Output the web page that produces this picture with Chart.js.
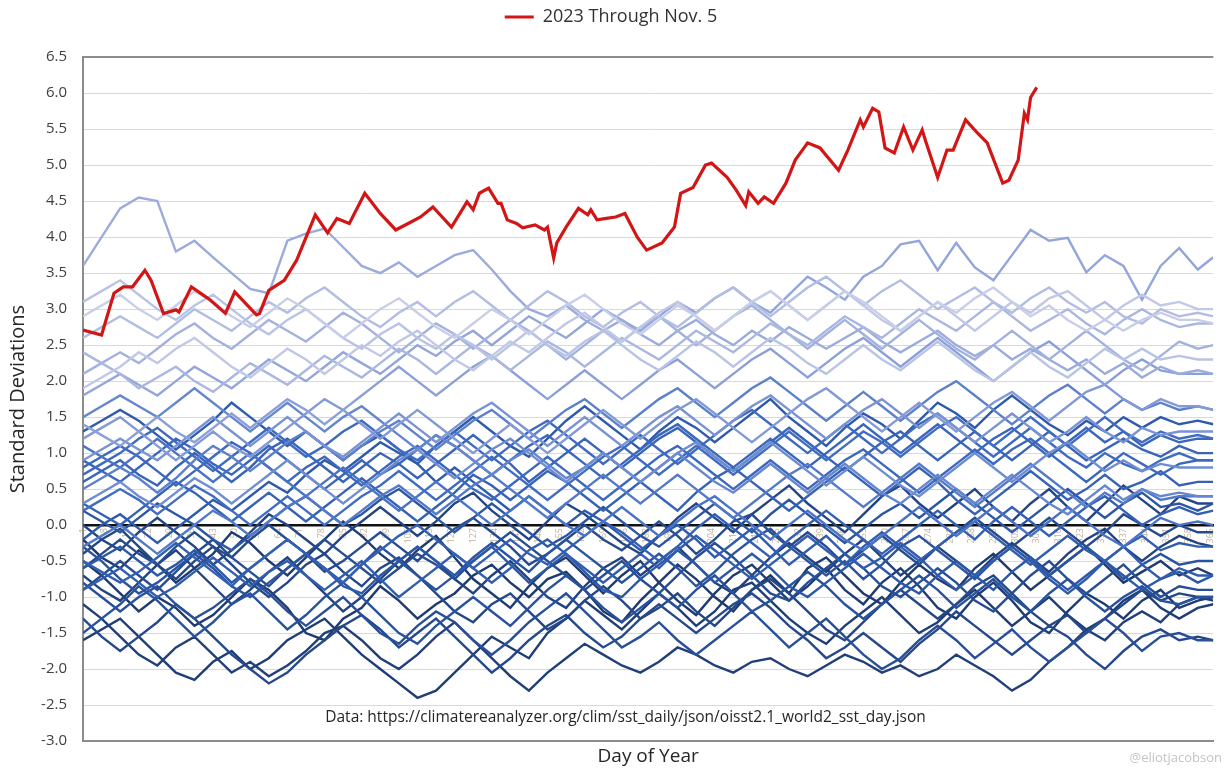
<!DOCTYPE html>
<html>
<head>
<meta charset="utf-8">
<script src="https://cdn.jsdelivr.net/npm/chart.js@4.4.0/dist/chart.umd.min.js"></script>
<style>
    html, body { margin: 0; padding: 0; background: #ffffff; }
    #wrap { width: 1224px; height: 768px; position: relative; }
</style>
</head>
<body>
<div id="wrap"><canvas id="sstChart"></canvas></div>
<script>
const sampleDays = [1, 7, 13, 19, 25, 31, 37, 43, 49, 55, 61, 67, 73, 79, 85, 91, 97, 103, 109, 115,
    121, 127, 133, 139, 145, 151, 157, 163, 169, 175, 181, 187, 193, 199, 205, 211, 217, 223, 229, 235,
    241, 247, 253, 259, 265, 271, 277, 283, 289, 295, 301, 307, 313, 319, 325, 331, 337, 343, 349, 355,
    361, 366];

// Tick labels along the zero line
const dayTicks = [1, 8, 15, 22, 29, 36, 43, 50, 57, 64, 71, 78, 85, 92, 99, 106, 113, 120, 127, 134, 141, 148,
    155, 162, 169, 176, 183, 190, 197, 204, 211, 218, 225, 232, 239, 246, 253, 260, 267, 274, 281, 288, 295,
    302, 309, 316, 323, 330, 337, 344, 351, 358, 365];

// Standard deviations for each past year (1982 - 2022)
const sst1982 = [-0.5,-0.7,-0.95,-1.2,-1.0,-1.15,-1.4,-1.25,-1.0,-0.75, -0.9,-1.15,-1.5,-1.6,-1.3,-1.15,-0.85,-1.05,-1.3,-1.1,
    -0.95,-0.7,-0.55,-0.8,-1.0,-0.75,-0.65,-0.9,-1.2,-1.35, -1.05,-0.8,-0.55,-0.75,-1.0,-1.2,-0.9,-0.7,-0.95,-0.6,
    -0.45,-0.7,-0.95,-1.1,-0.8,-0.55,-0.75,-0.9,-0.6,-0.4, -0.65,-0.9,-0.7,-0.5,-0.3,-0.55,-0.8,-0.65,-0.5,-0.7, -0.6,-0.7];
const sst1983 = [-0.2,-0.45,-0.6,-0.35,-0.55,-0.8,-0.6,-0.4,-0.1,-0.25, -0.5,-0.7,-0.45,-0.2,0.05,-0.15,-0.4,-0.6,-0.35,-0.15,
    -0.45,-0.75,-0.95,-1.15,-0.85,-0.6,-0.45,-0.7,-0.95,-0.7, -0.5,-0.8,-1.05,-1.25,-0.95,-0.7,-0.55,-0.8,-1.05,-0.85,
    -0.6,-0.9,-1.1,-0.8,-0.6,-0.85,-1.15,-1.3,-1.0,-0.8, -1.05,-1.35,-1.5,-1.2,-0.95,-1.1,-1.3,-1.05,-0.9,-1.15, -1.05,-1.0];
const sst1984 = [-1.6,-1.45,-1.3,-1.55,-1.8,-2.05,-2.15,-1.9,-1.75,-2.0, -1.85,-1.6,-1.45,-1.3,-1.55,-1.8,-2.0,-2.2,-2.4,-2.3,
    -2.05,-1.8,-1.55,-1.7,-1.85,-1.5,-1.3,-1.05,-1.25,-1.45, -1.2,-0.95,-1.15,-1.4,-1.2,-0.9,-0.8,-1.05,-1.3,-1.5,
    -1.65,-1.4,-1.2,-1.0,-1.25,-1.5,-1.35,-1.1,-0.9,-1.15, -1.4,-1.2,-1.0,-1.25,-1.45,-1.3,-1.05,-0.9,-1.15,-1.3, -1.15,-1.1];
const sst1985 = [-1.1,-1.3,-1.55,-1.8,-1.95,-1.7,-1.55,-1.8,-2.05,-1.9, -2.1,-1.95,-1.75,-1.5,-1.4,-1.6,-1.85,-2.0,-1.8,-1.55,
    -1.35,-1.6,-1.85,-2.1,-2.3,-2.05,-1.85,-1.65,-1.8,-1.95, -2.05,-1.9,-1.7,-1.8,-1.95,-2.05,-1.9,-1.85,-2.0,-2.1,
    -1.95,-1.8,-1.9,-2.05,-1.95,-2.1,-2.0,-1.8,-1.95,-2.1, -2.3,-2.15,-1.9,-1.7,-1.45,-1.6,-1.35,-1.2,-1.35,-1.1, -1.0,-1.05];
const sst1986 = [-0.7,-0.9,-1.05,-0.8,-0.55,-0.35,-0.6,-0.85,-1.1,-0.9, -0.65,-0.45,-0.7,-0.95,-1.2,-1.0,-0.75,-0.5,-0.3,-0.5,
    -0.75,-0.95,-0.7,-0.5,-0.75,-1.0,-1.15,-0.85,-0.6,-0.45, -0.7,-0.5,-0.3,-0.55,-0.8,-0.95,-0.7,-0.45,-0.25,-0.45,
    -0.65,-0.4,-0.2,-0.45,-0.7,-0.5,-0.3,-0.5,-0.7,-0.45, -0.25,-0.45,-0.65,-0.4,-0.2,-0.05,-0.3,-0.5,-0.3,-0.15, -0.25,-0.3];
const sst1987 = [0.0,-0.2,-0.35,-0.1,0.1,-0.1,-0.3,-0.55,-0.35,-0.1, 0.15,0.0,-0.2,-0.4,-0.15,0.05,0.25,0.05,-0.15,0.05,
    0.3,0.45,0.2,0.0,-0.2,0.05,0.3,0.15,-0.05,-0.25, -0.4,-0.15,0.1,0.3,0.1,-0.1,0.15,0.35,0.55,0.3,
    0.1,-0.1,0.15,0.4,0.55,0.3,0.1,0.3,0.5,0.25, 0.05,0.3,0.5,0.25,0.05,0.3,0.55,0.35,0.15,0.4, 0.3,0.3];
const sst1988 = [-0.4,-0.2,-0.05,-0.3,-0.55,-0.75,-0.5,-0.3,-0.55,-0.8, -1.0,-0.8,-0.55,-0.4,-0.65,-0.85,-0.6,-0.45,-0.7,-0.95,
    -1.2,-1.35,-1.1,-0.95,-1.2,-1.45,-1.3,-1.05,-0.85,-1.05, -1.3,-1.15,-0.95,-1.2,-1.4,-1.15,-0.9,-0.75,-0.95,-1.2,
    -1.45,-1.6,-1.35,-1.1,-0.9,-1.1,-1.3,-1.1,-0.85,-0.7, -0.95,-1.2,-1.4,-1.25,-1.5,-1.3,-1.1,-0.9,-1.05,-0.95, -1.0,-1.0];
const sst1989 = [-1.3,-1.55,-1.75,-1.55,-1.35,-1.1,-1.3,-1.55,-1.8,-2.0, -2.2,-2.05,-1.8,-1.6,-1.4,-1.25,-1.45,-1.7,-1.5,-1.3,
    -1.55,-1.8,-2.05,-1.85,-1.6,-1.4,-1.25,-1.5,-1.7,-1.55, -1.3,-1.1,-1.3,-1.5,-1.3,-1.1,-0.95,-1.15,-1.4,-1.6,
    -1.85,-1.7,-1.5,-1.7,-1.9,-1.65,-1.45,-1.2,-1.4,-1.6, -1.8,-1.6,-1.4,-1.55,-1.8,-2.0,-1.75,-1.55,-1.45,-1.6, -1.55,-1.6];
const sst1990 = [-0.6,-0.4,-0.2,-0.4,-0.55,-0.3,-0.1,-0.3,-0.45,-0.2, 0.0,-0.2,-0.4,-0.65,-0.5,-0.3,-0.1,-0.3,-0.5,-0.25,
    -0.05,0.1,-0.1,-0.3,-0.55,-0.4,-0.2,0.0,-0.2,-0.35, -0.15,0.05,-0.15,-0.4,-0.2,0.05,0.15,-0.1,-0.3,-0.1,
    -0.3,-0.55,-0.35,-0.15,-0.35,-0.55,-0.3,-0.1,0.1,-0.1, -0.3,-0.1,0.1,-0.1,-0.3,-0.1,0.15,0.0,-0.15,0.0, -0.1,-0.1];
const sst1991 = [-0.9,-0.7,-0.5,-0.7,-0.9,-0.65,-0.4,-0.2,-0.45,-0.65, -0.85,-0.6,-0.4,-0.2,-0.4,-0.6,-0.8,-0.6,-0.4,-0.55,
    -0.75,-0.5,-0.3,-0.1,-0.3,-0.5,-0.7,-0.9,-0.7,-0.5, -0.75,-0.95,-0.7,-0.45,-0.25,-0.45,-0.7,-0.95,-1.05,-0.8,
    -0.6,-0.4,-0.6,-0.85,-1.0,-0.8,-0.6,-0.8,-1.05,-1.2, -0.95,-0.7,-0.5,-0.75,-0.95,-0.75,-0.55,-0.8,-1.0,-0.85, -0.9,-0.9];
const sst1992 = [-0.8,-1.0,-1.2,-1.0,-0.85,-1.1,-1.3,-1.15,-0.95,-0.75, -0.95,-1.2,-1.4,-1.2,-1.0,-1.25,-1.5,-1.65,-1.4,-1.2,
    -1.35,-1.6,-1.8,-1.6,-1.35,-1.15,-0.95,-1.2,-1.45,-1.7, -1.55,-1.35,-1.6,-1.8,-1.6,-1.4,-1.2,-1.45,-1.7,-1.5,
    -1.3,-1.55,-1.8,-2.0,-1.85,-1.6,-1.4,-1.6,-1.85,-1.65, -1.45,-1.7,-1.9,-1.7,-1.5,-1.3,-1.5,-1.75,-1.55,-1.5, -1.6,-1.6];
const sst1993 = [-1.5,-1.3,-1.1,-0.85,-1.05,-1.3,-1.55,-1.35,-1.1,-0.95, -1.2,-1.45,-1.25,-1.0,-0.8,-1.0,-1.25,-1.5,-1.65,-1.4,
    -1.2,-1.0,-1.2,-1.4,-1.15,-0.9,-0.7,-0.9,-1.15,-1.35, -1.15,-0.95,-1.15,-0.9,-0.7,-0.95,-1.2,-1.05,-0.85,-0.65,
    -0.85,-1.1,-1.3,-1.1,-0.9,-0.7,-0.9,-1.15,-0.95,-0.75, -1.0,-1.2,-0.95,-0.75,-1.0,-1.2,-1.0,-0.85,-1.05,-1.1, -1.0,-1.0];
const sst1994 = [-0.3,-0.5,-0.75,-0.95,-0.8,-0.6,-0.4,-0.6,-0.85,-1.0, -0.8,-0.6,-0.4,-0.6,-0.8,-0.55,-0.3,-0.5,-0.7,-0.9,
    -0.7,-0.45,-0.25,-0.45,-0.65,-0.4,-0.2,-0.4,-0.6,-0.8, -0.6,-0.4,-0.6,-0.85,-0.65,-0.4,-0.2,-0.05,-0.3,-0.5,
    -0.7,-0.5,-0.75,-0.55,-0.3,-0.15,-0.35,-0.55,-0.75,-0.5, -0.3,-0.5,-0.7,-0.5,-0.3,-0.5,-0.75,-0.55,-0.4,-0.55, -0.5,-0.5];
const sst1995 = [0.2,0.05,-0.1,0.1,0.3,0.15,0.0,-0.2,-0.35,-0.15, 0.05,0.25,0.4,0.2,0.0,0.15,0.35,0.5,0.3,0.1,
    -0.1,0.1,0.3,0.1,-0.1,-0.3,-0.15,0.05,0.25,0.05, -0.15,-0.3,-0.1,0.1,0.3,0.1,-0.1,0.15,0.35,0.15,
    -0.05,-0.25,-0.05,0.15,0.3,0.1,0.3,0.5,0.3,0.1, -0.1,0.1,0.3,0.5,0.3,0.1,0.3,0.45,0.25,0.3, 0.2,0.3];
const sst1996 = [-0.6,-0.45,-0.3,-0.5,-0.7,-0.55,-0.35,-0.55,-0.8,-0.6, -0.4,-0.2,-0.4,-0.6,-0.85,-0.95,-0.7,-0.5,-0.3,-0.5,
    -0.7,-0.5,-0.3,-0.55,-0.8,-0.6,-0.4,-0.65,-0.9,-1.0, -0.75,-0.55,-0.35,-0.55,-0.8,-0.6,-0.4,-0.6,-0.85,-1.0,
    -0.8,-0.6,-0.4,-0.6,-0.8,-0.95,-0.7,-0.5,-0.7,-0.9, -0.65,-0.45,-0.7,-0.9,-0.7,-0.5,-0.7,-0.9,-0.75,-0.65, -0.8,-0.7];
const sst1997 = [-0.2,0.0,0.15,-0.05,-0.25,-0.05,0.15,0.35,0.2,0.4, 0.6,0.45,0.7,0.9,0.75,0.95,1.15,1.0,0.85,1.1,
    1.3,1.5,1.3,1.1,0.95,1.2,1.45,1.65,1.45,1.25, 1.05,1.3,1.5,1.35,1.15,1.35,1.55,1.75,1.5,1.3,
    1.1,1.35,1.55,1.4,1.2,1.45,1.7,1.55,1.35,1.6, 1.8,1.6,1.4,1.25,1.45,1.3,1.5,1.35,1.5,1.4, 1.45,1.4];
const sst1998 = [1.3,1.45,1.6,1.45,1.25,1.05,1.25,1.45,1.7,1.5, 1.3,1.1,1.3,1.1,0.9,1.1,1.25,1.05,0.85,0.6,
    0.8,0.6,0.4,0.2,0.4,0.2,0.0,0.2,0.05,-0.15, -0.35,-0.15,0.0,-0.2,-0.45,-0.25,-0.05,-0.3,-0.55,-0.35,
    -0.15,-0.4,-0.6,-0.45,-0.25,-0.45,-0.7,-0.9,-0.7,-0.5, -0.3,-0.5,-0.75,-0.95,-0.75,-0.5,-0.3,-0.55,-0.75,-0.6, -0.7,-0.7];
const sst1999 = [-0.9,-0.75,-0.6,-0.8,-1.0,-0.85,-0.65,-0.45,-0.65,-0.85, -0.65,-0.5,-0.7,-0.9,-0.7,-0.5,-0.75,-1.0,-0.8,-0.6,
    -0.4,-0.6,-0.8,-0.6,-0.35,-0.2,-0.4,-0.6,-0.8,-0.6, -0.4,-0.6,-0.35,-0.15,-0.35,-0.55,-0.75,-0.55,-0.35,-0.15,
    -0.35,-0.55,-0.3,-0.1,-0.3,-0.5,-0.3,-0.1,0.05,-0.15, -0.35,-0.55,-0.35,-0.15,-0.35,-0.5,-0.3,-0.15,-0.35,-0.25, -0.3,-0.3];
const sst2000 = [-0.5,-0.65,-0.8,-0.65,-0.45,-0.25,-0.45,-0.65,-0.85,-0.6, -0.4,-0.2,-0.4,-0.6,-0.8,-0.55,-0.35,-0.15,0.0,-0.2,
    -0.4,-0.6,-0.4,-0.2,-0.4,-0.55,-0.35,-0.15,0.05,-0.1, -0.3,-0.5,-0.3,-0.05,0.15,-0.05,-0.25,-0.45,-0.2,0.0,
    0.2,0.0,-0.2,-0.4,-0.2,0.0,0.2,0.0,-0.2,0.05, 0.25,0.05,-0.15,0.05,0.25,0.4,0.2,0.0,0.15,0.25, 0.15,0.2];
const sst2001 = [0.3,0.15,0.0,0.2,0.4,0.6,0.45,0.25,0.05,0.25, 0.45,0.25,0.05,0.25,0.45,0.65,0.45,0.25,0.05,0.25,
    0.45,0.7,0.55,0.35,0.55,0.75,0.6,0.4,0.2,0.4, 0.6,0.4,0.2,0.45,0.65,0.8,0.6,0.4,0.2,0.4,
    0.6,0.8,0.6,0.4,0.6,0.8,0.6,0.35,0.15,0.35, 0.55,0.75,0.55,0.35,0.5,0.7,0.5,0.6,0.75,0.55, 0.6,0.6];
const sst2002 = [0.6,0.75,0.9,0.7,0.55,0.8,1.0,0.8,0.6,0.8, 1.05,1.2,1.0,0.8,0.6,0.8,1.0,0.85,0.65,0.85,
    1.05,1.25,1.05,0.85,0.6,0.8,1.0,1.2,1.0,0.8, 1.0,1.2,1.35,1.15,0.95,0.75,0.95,1.15,1.35,1.15,
    0.95,0.75,0.95,1.15,1.3,1.1,0.9,1.1,1.3,1.1, 0.9,1.1,1.3,1.1,0.9,1.05,1.2,1.05,0.95,1.1, 1.0,1.0];
const sst2003 = [0.9,0.75,0.6,0.8,1.0,1.2,1.05,0.85,0.7,0.9, 1.1,0.9,0.7,0.5,0.7,0.9,0.7,0.85,1.05,1.25,
    1.1,0.9,0.7,0.9,1.1,1.25,1.05,0.85,0.65,0.85, 1.05,1.25,1.4,1.2,1.0,0.8,1.0,1.2,1.0,0.8,
    1.0,1.2,1.4,1.2,1.0,1.2,1.4,1.2,1.0,1.2, 1.35,1.15,0.95,1.15,1.35,1.15,1.3,1.1,1.25,1.15, 1.2,1.2];
const sst2004 = [0.8,0.95,1.1,0.95,0.75,0.55,0.75,0.95,1.15,1.0, 0.8,0.6,0.8,0.95,0.75,0.55,0.75,0.95,1.1,0.9,
    0.7,0.5,0.35,0.55,0.75,0.95,0.75,0.55,0.35,0.55, 0.75,0.95,1.1,0.9,0.7,0.5,0.7,0.9,0.7,0.5,
    0.7,0.9,1.05,0.85,0.65,0.45,0.65,0.85,1.05,0.85, 1.05,1.2,1.0,0.8,0.6,0.8,1.0,0.85,0.7,0.85, 0.9,0.9];
const sst2005 = [0.7,0.85,1.0,1.2,1.35,1.15,0.95,0.75,0.95,1.15, 1.35,1.15,0.95,1.1,1.3,1.45,1.25,1.05,0.9,1.1,
    1.3,1.1,0.9,1.1,1.3,1.45,1.25,1.05,0.85,1.05, 1.25,1.05,0.85,1.05,1.25,1.45,1.6,1.4,1.2,1.0,
    1.2,1.4,1.2,1.0,1.2,1.4,1.55,1.35,1.15,0.95, 1.15,1.35,1.15,0.95,0.8,1.0,0.85,0.75,0.9,1.0, 0.9,0.9];
const sst2006 = [0.2,0.35,0.5,0.35,0.15,0.35,0.55,0.4,0.2,0.0, 0.2,0.4,0.2,0.0,0.2,0.4,0.55,0.75,0.55,0.35,
    0.55,0.75,0.95,0.75,0.55,0.35,0.55,0.75,0.95,1.1, 0.9,0.7,0.9,1.1,0.9,0.7,0.9,1.1,1.3,1.1,
    0.9,1.1,1.3,1.15,0.95,1.15,1.35,1.5,1.3,1.1, 1.3,1.5,1.3,1.1,1.3,1.5,1.3,1.15,1.3,1.2, 1.25,1.2];
const sst2007 = [1.1,0.95,0.8,1.0,1.2,1.0,0.8,0.6,0.8,1.0, 0.8,0.6,0.4,0.6,0.8,0.6,0.4,0.2,0.4,0.6,
    0.4,0.2,0.0,0.2,0.4,0.2,0.0,-0.15,0.05,0.25, 0.05,-0.15,0.05,0.25,0.4,0.2,0.0,-0.2,0.0,0.2,
    0.0,-0.2,-0.35,-0.15,0.05,0.25,0.05,-0.15,0.05,0.25, 0.05,-0.15,0.05,0.25,0.05,-0.15,-0.3,-0.1,0.1,0.0, 0.05,0.0];
const sst2008 = [-0.3,-0.15,0.0,-0.2,-0.4,-0.2,0.0,0.2,0.05,-0.15, 0.05,0.25,0.4,0.2,0.0,0.2,0.4,0.55,0.35,0.15,
    0.35,0.55,0.7,0.5,0.3,0.1,0.3,0.5,0.7,0.5, 0.3,0.5,0.7,0.5,0.3,0.1,0.3,0.5,0.7,0.85,
    0.65,0.45,0.25,0.45,0.65,0.85,0.65,0.45,0.25,0.45, 0.65,0.85,0.65,0.45,0.25,0.45,0.3,0.5,0.35,0.4, 0.4,0.4];
const sst2009 = [0.5,0.65,0.8,0.65,0.45,0.65,0.9,1.1,0.95,0.75, 0.95,1.15,1.3,1.1,0.9,1.1,1.3,1.45,1.25,1.05,
    1.25,1.45,1.6,1.4,1.2,1.4,1.6,1.75,1.55,1.35, 1.55,1.75,1.9,1.7,1.5,1.7,1.9,2.05,1.85,1.65,
    1.45,1.65,1.85,1.65,1.45,1.65,1.85,2.0,1.8,1.6, 1.4,1.6,1.8,1.95,1.75,1.55,1.75,1.6,1.7,1.6, 1.65,1.6];
const sst2010 = [1.5,1.65,1.8,1.65,1.5,1.7,1.9,1.7,1.5,1.3, 1.5,1.7,1.5,1.3,1.5,1.65,1.45,1.25,1.05,1.25,
    1.1,0.9,0.7,0.9,1.05,0.85,0.65,0.8,1.0,0.8, 0.6,0.8,1.0,0.8,0.6,0.45,0.65,0.85,0.65,0.45,
    0.65,0.85,0.65,0.45,0.3,0.5,0.7,0.5,0.3,0.5, 0.7,0.5,0.3,0.15,0.35,0.55,0.35,0.5,0.4,0.45, 0.4,0.4];
const sst2011 = [0.3,0.45,0.6,0.4,0.25,0.45,0.65,0.5,0.3,0.5, 0.7,0.9,0.7,0.5,0.3,0.5,0.7,0.9,1.05,0.85,
    0.65,0.85,1.05,1.2,1.0,0.8,0.6,0.8,1.0,0.8, 0.6,0.8,1.0,1.15,0.95,0.75,0.95,1.15,0.95,0.75,
    0.55,0.75,0.95,0.75,0.55,0.4,0.6,0.8,1.0,0.8, 0.6,0.8,1.0,1.15,0.95,0.75,0.9,0.75,0.85,0.8, 0.8,0.8];
const sst2012 = [0.9,1.05,1.2,1.05,0.9,1.1,1.3,1.5,1.3,1.1, 1.3,1.5,1.3,1.1,0.95,1.15,1.35,1.55,1.35,1.15,
    1.35,1.55,1.7,1.5,1.3,1.1,1.3,1.5,1.3,1.1, 1.3,1.5,1.65,1.45,1.25,1.45,1.65,1.8,1.6,1.4,
    1.2,1.4,1.6,1.75,1.55,1.35,1.55,1.35,1.15,1.35, 1.55,1.35,1.15,1.3,1.5,1.3,1.15,1.35,1.25,1.3, 1.3,1.3];
const sst2013 = [1.2,1.35,1.5,1.3,1.1,0.9,1.1,1.3,1.1,0.95, 1.15,1.35,1.55,1.75,1.6,1.4,1.2,1.4,1.6,1.4,
    1.2,1.0,1.2,1.4,1.2,1.0,1.2,1.4,1.6,1.4, 1.2,1.4,1.6,1.75,1.55,1.35,1.15,1.35,1.55,1.75,
    1.9,1.7,1.5,1.3,1.5,1.7,1.5,1.3,1.5,1.7, 1.85,1.65,1.45,1.65,1.85,1.95,1.75,1.6,1.75,1.65, 1.65,1.6];
const sst2014 = [1.4,1.25,1.1,1.3,1.5,1.3,1.15,1.35,1.55,1.35, 1.55,1.75,1.6,1.4,1.6,1.8,2.0,2.2,2.0,1.8,
    2.0,2.2,2.35,2.15,1.95,1.75,1.95,2.15,1.95,1.75, 1.95,2.15,2.3,2.1,1.9,2.1,2.3,2.45,2.25,2.05,
    2.25,2.45,2.6,2.4,2.2,2.4,2.6,2.4,2.2,2.0, 2.2,2.4,2.55,2.35,2.15,1.95,2.15,2.3,2.15,2.1, 2.1,2.1];
const sst2015 = [1.8,1.95,2.1,1.95,1.8,2.0,2.2,2.05,1.9,2.1, 2.3,2.15,2.0,2.2,2.4,2.25,2.1,2.3,2.5,2.35,
    2.55,2.7,2.5,2.7,2.9,2.75,2.6,2.8,3.0,2.85, 2.7,2.9,3.1,2.95,3.15,3.3,3.1,2.95,3.2,3.45,
    3.3,3.13,3.45,3.6,3.9,3.95,3.54,3.92,3.58,3.4, 3.75,4.1,3.95,3.99,3.51,3.75,3.6,3.13,3.6,3.85, 3.55,3.72];
const sst2016 = [3.6,4.0,4.4,4.55,4.5,3.8,3.95,3.72,3.5,3.28, 3.22,3.95,4.05,4.12,3.86,3.6,3.5,3.65,3.45,3.6,
    3.75,3.82,3.55,3.25,3.0,2.9,3.05,2.85,2.7,2.85, 2.65,2.5,2.7,2.85,2.65,2.5,2.7,2.55,2.75,2.6,
    2.45,2.6,2.75,2.55,2.4,2.55,2.7,2.5,2.35,2.5, 2.3,2.45,2.3,2.15,2.3,2.1,2.25,2.05,2.2,2.1, 2.15,2.1];
const sst2017 = [2.1,2.25,2.4,2.25,2.45,2.65,2.8,2.6,2.45,2.65, 2.85,2.7,2.55,2.75,2.95,2.8,2.6,2.4,2.6,2.8,
    2.65,2.45,2.65,2.85,2.7,2.5,2.3,2.5,2.7,2.55, 2.75,2.9,2.7,2.5,2.7,2.9,3.05,2.85,2.65,2.45,
    2.65,2.85,2.65,2.45,2.65,2.85,2.65,2.45,2.3,2.5, 2.7,2.5,2.3,2.5,2.7,2.5,2.3,2.15,2.35,2.55, 2.45,2.5];
const sst2018 = [2.4,2.25,2.1,1.9,2.05,2.2,2.0,1.85,2.05,2.25, 2.1,1.95,2.15,2.35,2.2,2.05,2.25,2.45,2.3,2.1,
    2.3,2.5,2.35,2.15,2.35,2.55,2.4,2.2,2.4,2.6, 2.45,2.3,2.5,2.7,2.55,2.4,2.6,2.8,2.65,2.5,
    2.7,2.9,2.75,2.6,2.8,3.0,2.85,2.7,2.9,3.1, 2.9,2.7,2.85,3.0,2.8,2.65,2.85,3.0,2.85,2.75, 2.8,2.8];
const sst2019 = [2.6,2.75,2.9,2.75,2.6,2.8,3.0,2.85,2.7,2.9, 3.1,2.95,3.15,3.3,3.1,2.9,2.75,2.95,3.1,2.9,
    3.1,3.25,3.05,2.85,3.05,3.25,3.1,2.9,2.75,2.95, 3.1,2.9,2.75,2.95,3.15,3.3,3.1,2.9,3.1,3.3,
    3.45,3.25,3.05,3.25,3.4,3.2,3.0,3.15,3.3,3.1, 2.95,3.15,3.3,3.1,2.95,3.1,2.9,2.8,3.0,2.9, 2.95,2.9];
const sst2020 = [3.1,3.25,3.4,3.2,3.0,2.85,3.05,3.2,3.0,2.8, 2.65,2.85,3.0,2.8,2.6,2.45,2.65,2.8,2.6,2.45,
    2.65,2.5,2.3,2.5,2.7,2.5,2.35,2.55,2.7,2.5, 2.3,2.15,2.35,2.55,2.4,2.2,2.4,2.6,2.45,2.25,
    2.1,2.3,2.5,2.3,2.15,2.35,2.55,2.35,2.15,2.0, 2.2,2.4,2.2,2.05,2.25,2.45,2.3,2.45,2.3,2.35, 2.3,2.3];
const sst2021 = [1.9,2.05,2.2,2.4,2.25,2.45,2.6,2.4,2.2,2.05, 2.25,2.45,2.3,2.1,2.3,2.5,2.35,2.55,2.7,2.5,
    2.3,2.15,2.35,2.55,2.4,2.6,2.8,2.95,2.75,2.55, 2.75,2.95,3.1,2.9,2.7,2.9,3.1,3.25,3.05,2.85,
    3.05,3.25,3.05,2.85,2.7,2.9,3.1,2.9,2.7,2.9, 3.1,2.95,3.15,3.25,3.05,2.85,3.05,3.2,3.05,3.1, 3.0,3.0];
const sst2022 = [2.9,3.05,3.2,3.0,2.85,3.05,3.25,3.1,2.9,2.75, 2.95,3.15,3.0,2.8,2.6,2.8,3.0,3.15,2.95,2.75,
    2.6,2.8,3.0,2.85,2.65,2.85,3.05,3.2,3.0,2.8, 2.65,2.85,3.05,2.9,2.7,2.9,3.1,3.25,3.05,2.85,
    3.05,3.25,3.1,2.9,2.7,2.9,3.1,2.95,3.15,3.3, 3.1,2.9,3.05,2.85,2.7,2.85,2.7,2.85,2.95,2.85, 2.85,2.8];

const years = [1982, 1983, 1984, 1985, 1986, 1987, 1988, 1989, 1990, 1991, 1992, 1993, 1994, 1995, 1996, 1997,
    1998, 1999, 2000, 2001, 2002, 2003, 2004, 2005, 2006, 2007, 2008, 2009, 2010, 2011, 2012, 2013, 2014, 2015,
    2016, 2017, 2018, 2019, 2020, 2021, 2022];
const yearSeries = [sst1982, sst1983, sst1984, sst1985, sst1986, sst1987, sst1988, sst1989, sst1990, sst1991,
    sst1992, sst1993, sst1994, sst1995, sst1996, sst1997, sst1998, sst1999, sst2000, sst2001, sst2002, sst2003,
    sst2004, sst2005, sst2006, sst2007, sst2008, sst2009, sst2010, sst2011, sst2012, sst2013, sst2014, sst2015,
    sst2016, sst2017, sst2018, sst2019, sst2020, sst2021, sst2022];

// 2023 through Nov. 5
const redDays = [1, 7, 11, 14, 17, 21, 23, 27, 31, 32, 36, 42, 47, 50, 57, 58, 61, 66, 70, 76, 80, 83, 87, 92, 97,
    102, 106, 110, 114, 120, 125, 127, 129, 132, 135, 136, 138, 141, 143, 147, 150, 151, 153, 154, 157, 161, 164,
    165, 167, 170, 173, 176, 180, 183, 188, 192, 194, 198, 202, 204, 209, 212, 215, 216, 219, 221, 224, 228, 231,
    235, 239, 245, 248, 252, 253, 256, 258, 260, 263, 266, 269, 272, 273, 277, 280, 282, 286, 290, 293, 298, 300,
    303, 305, 306, 307, 309];
const redValues = [2.71, 2.64, 3.22, 3.31, 3.31, 3.54, 3.40, 2.94, 2.99, 2.96, 3.31, 3.13, 2.94, 3.24, 2.92, 2.94,
    3.26, 3.40, 3.68, 4.31, 4.06, 4.26, 4.19, 4.61, 4.33, 4.10, 4.19, 4.28, 4.42, 4.14, 4.49, 4.38, 4.61, 4.68,
    4.47, 4.47, 4.24, 4.19, 4.13, 4.17, 4.10, 4.14, 3.71, 3.92, 4.14, 4.40, 4.31, 4.38, 4.24, 4.26, 4.28, 4.33,
    4.00, 3.82, 3.92, 4.14, 4.61, 4.69, 5.00, 5.03, 4.83, 4.65, 4.44, 4.63, 4.47, 4.56, 4.47, 4.75, 5.07, 5.31,
    5.24, 4.93, 5.21, 5.63, 5.53, 5.79, 5.74, 5.24, 5.17, 5.53, 5.21, 5.49, 5.35, 4.83, 5.21, 5.21, 5.63, 5.44,
    5.31, 4.75, 4.79, 5.07, 5.72, 5.63, 5.94, 6.08];

const legendText = '2023 Through Nov. 5';
const sourceNote = 'Data: https://climatereanalyzer.org/clim/sst_daily/json/oisst2.1_world2_sst_day.json';
const credit = '@eliotjacobson';

const FONT = '"Open Sans", "Noto Sans", sans-serif';
const RED = '#d21616';

// dark navy for the oldest years, pale lavender for the most recent
function yearColor(i) {
    const stops = [
        [0.0, [30, 58, 110]],
        [0.35, [44, 88, 168]],
        [0.6, [64, 108, 196]],
        [0.8, [140, 160, 216]],
        [1.0, [200, 206, 232]]
    ];
    const t = i / (years.length - 1);
    for (let s = 1; s < stops.length; s++) {
        if (t <= stops[s][0]) {
            const [t0, c0] = stops[s - 1];
            const [t1, c1] = stops[s];
            const f = (t - t0) / (t1 - t0);
            const c = c0.map((v, k) => Math.round(v + (c1[k] - v) * f));
            return 'rgb(' + c.join(',') + ')';
        }
    }
    return 'rgb(200,206,232)';
}

const datasets = [{
    label: legendText,
    data: redDays.map((d, i) => ({ x: d, y: redValues[i] })),
    borderColor: RED,
    backgroundColor: RED,
    borderWidth: 3.2,
    order: 0
}];

yearSeries.forEach((vals, i) => {
    datasets.push({
        label: String(years[i]),
        data: sampleDays.map((d, k) => ({ x: d, y: vals[k] })),
        borderColor: yearColor(i),
        backgroundColor: yearColor(i),
        borderWidth: 2.4,
        order: years.length - i
    });
});

// Source line and credit inside the canvas
const notesPlugin = {
    id: 'notes',
    afterDraw(chart) {
        const { ctx, chartArea } = chart;
        ctx.save();
        ctx.font = '15.5px ' + FONT;
        ctx.fillStyle = '#262626';
        ctx.textAlign = 'center';
        ctx.textBaseline = 'middle';
        ctx.fillText(sourceNote, chartArea.left + (chartArea.right - chartArea.left) * 0.48, chartArea.bottom - 23);
        ctx.font = '13px ' + FONT;
        ctx.fillStyle = '#c4c4c4';
        ctx.textAlign = 'right';
        ctx.fillText(credit, chart.width - 2, chart.height - 10);
        ctx.restore();
    }
};

const ctx = document.getElementById('sstChart').getContext('2d');
new Chart(ctx, {
    type: 'line',
    data: { datasets: datasets },
    options: {
        responsive: true,
        maintainAspectRatio: false,
        animation: false,
        layout: { padding: { left: 0, right: 2, top: 0, bottom: 0 } },
        elements: {
            point: { radius: 0 },
            line: { tension: 0 }
        },
        plugins: {
            legend: {
                position: 'top',
                onClick: () => {},
                labels: {
                    boxWidth: 29,
                    boxHeight: 3,
                    padding: 8,
                    color: '#333333',
                    font: { size: 18, family: FONT },
                    generateLabels: () => [{
                        text: legendText,
                        fillStyle: RED,
                        strokeStyle: RED,
                        lineWidth: 0,
                        hidden: false,
                        datasetIndex: 0,
                        fontColor: '#333333'
                    }]
                }
            },
            // empty spacer below the legend
            title: {
                display: true,
                text: ' ',
                weight: 500,
                font: { size: 1 },
                padding: { top: 0, bottom: 20 }
            },
            tooltip: { enabled: false }
        },
        scales: {
            x: {
                type: 'linear',
                min: 1,
                max: 366,
                position: { y: 0 },
                z: 1,
                grid: { display: false, drawTicks: false },
                border: { display: true, color: '#111111', width: 2.5 },
                afterBuildTicks: scale => { scale.ticks = dayTicks.map(v => ({ value: v })); },
                ticks: {
                    autoSkip: false,
                    minRotation: 90,
                    maxRotation: 90,
                    padding: 3,
                    color: 'rgba(150,125,85,0.6)',
                    font: { size: 9, family: FONT }
                }
            },
            xb: {
                type: 'linear',
                axis: 'x',
                min: 1,
                max: 366,
                position: 'bottom',
                grid: { display: false, drawTicks: false },
                border: { display: true, color: '#8c8c8c', width: 2 },
                ticks: { display: false },
                title: {
                    display: true,
                    text: 'Day of Year',
                    color: '#262626',
                    font: { size: 19, family: FONT },
                    padding: { top: 0, bottom: 0 }
                },
                afterFit: scale => { scale.height = 27; }
            },
            y: {
                min: -3,
                max: 6.5,
                grid: {
                    color: c => (c.tick && c.tick.value === 6.5) ? '#8c8c8c' : '#d9d9d9',
                    lineWidth: c => (c.tick && c.tick.value === 6.5) ? 2 : 1,
                    drawTicks: false
                },
                border: { display: true, color: '#8c8c8c', width: 2 },
                ticks: {
                    stepSize: 0.5,
                    padding: 16,
                    color: '#404040',
                    font: { size: 15, family: FONT },
                    callback: v => v.toFixed(1)
                },
                title: {
                    display: true,
                    text: 'Standard Deviations',
                    color: '#262626',
                    font: { size: 20, family: FONT },
                    padding: { top: 6, bottom: 0 }
                },
                afterFit: scale => { scale.width = 83; }
            }
        }
    },
    plugins: [notesPlugin]
});
</script>
</body>
</html>
